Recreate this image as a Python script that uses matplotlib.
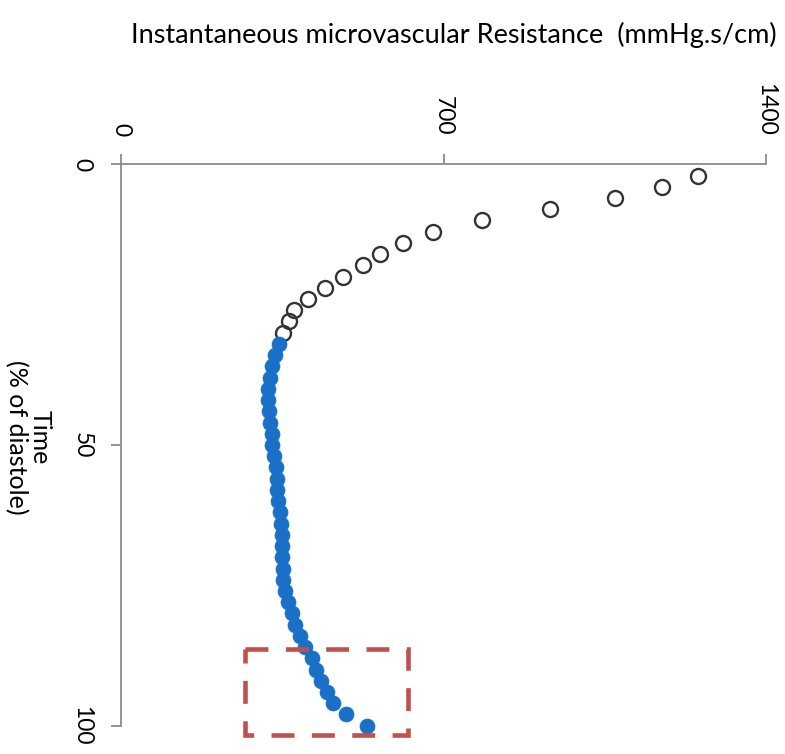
import matplotlib
matplotlib.use("Agg")
import matplotlib.pyplot as plt
from matplotlib.patches import Rectangle
import numpy as np

plt.rcParams['font.family'] = ['Lato', 'DejaVu Sans']

# Time (% of diastole)
time_open = [2, 4, 6, 8, 10, 12, 14, 16, 18, 20, 22, 24, 26, 28, 30]
res_open = [1252, 1175, 1072, 931, 784, 677, 613, 562, 525, 481, 443, 405, 376, 365, 352]

time_filled = [32, 34, 36, 38, 40, 42, 44, 46, 48, 50, 52, 54, 56, 58, 60, 62, 64, 66,
               68, 70, 72, 74, 76, 78, 80, 82, 84, 86, 88, 90, 92, 94, 96, 98, 100]
res_filled = [343, 334, 328, 323, 319, 319, 321, 323, 328, 328, 332, 336, 339, 339, 341,
              345, 347, 349, 349, 349, 352, 352, 356, 362, 371, 378, 389, 399, 415, 423,
              434, 447, 460, 488, 534]

x_ticks = [0, 700, 1400]
y_ticks = [0, 50, 100]
x_title = "Instantaneous microvascular Resistance  (mmHg.s/cm)"
y_title = "Time\n(% of diastole)"

# highlighted region (resistance range, time range)
box_x = (269, 623)
box_t = (86.3, 101.6)

W, H = 785, 754
fig = plt.figure(figsize=(W / 100, H / 100), dpi=100)
ax = fig.add_axes([121 / W, 1 - 725.7 / H, (766 - 121) / W, (725.7 - 164.3) / H])

ax.plot(res_open, time_open, linestyle='none', marker='o', markersize=10.8,
        markerfacecolor='none', markeredgecolor='#333333', markeredgewidth=1.7, clip_on=False)
ax.plot(res_filled, time_filled, linestyle='none', marker='o', markersize=10.8,
        markerfacecolor='#1a70c6', markeredgecolor='#1a70c6', markeredgewidth=0.5, clip_on=False)

rect = Rectangle((box_x[0], box_t[0]), box_x[1] - box_x[0], box_t[1] - box_t[0],
                 fill=False, edgecolor='#C0504D', linewidth=3.3,
                 linestyle=(0, (5, 3.8)), clip_on=False, zorder=5)
ax.add_patch(rect)

ax.set_xlim(0, 1400)
ax.set_ylim(100, 0)
ax.set_xticks(x_ticks)
ax.set_yticks(y_ticks)
ax.xaxis.tick_top()
ax.spines['bottom'].set_visible(False)
ax.spines['right'].set_visible(False)
for s in ('top', 'left'):
    ax.spines[s].set_color('#8c8c8c')
    ax.spines[s].set_linewidth(1.3)
ax.tick_params(axis='both', direction='out', length=7.5, width=1.3, color='#8c8c8c',
               labelsize=16.5, pad=13)
for lab in ax.get_xticklabels():
    lab.set_rotation(-90)
for lab in ax.get_yticklabels():
    lab.set_rotation(-90)
    lab.set_verticalalignment('center')

fig.text(454 / W, 1 - 35 / H, x_title, ha='center', va='center', fontsize=19.5)
fig.text(28 / W, 1 - 437 / H, y_title, ha='center', va='center', fontsize=18,
         rotation=-90, linespacing=1.0)

fig.savefig("out.png", dpi=100)
